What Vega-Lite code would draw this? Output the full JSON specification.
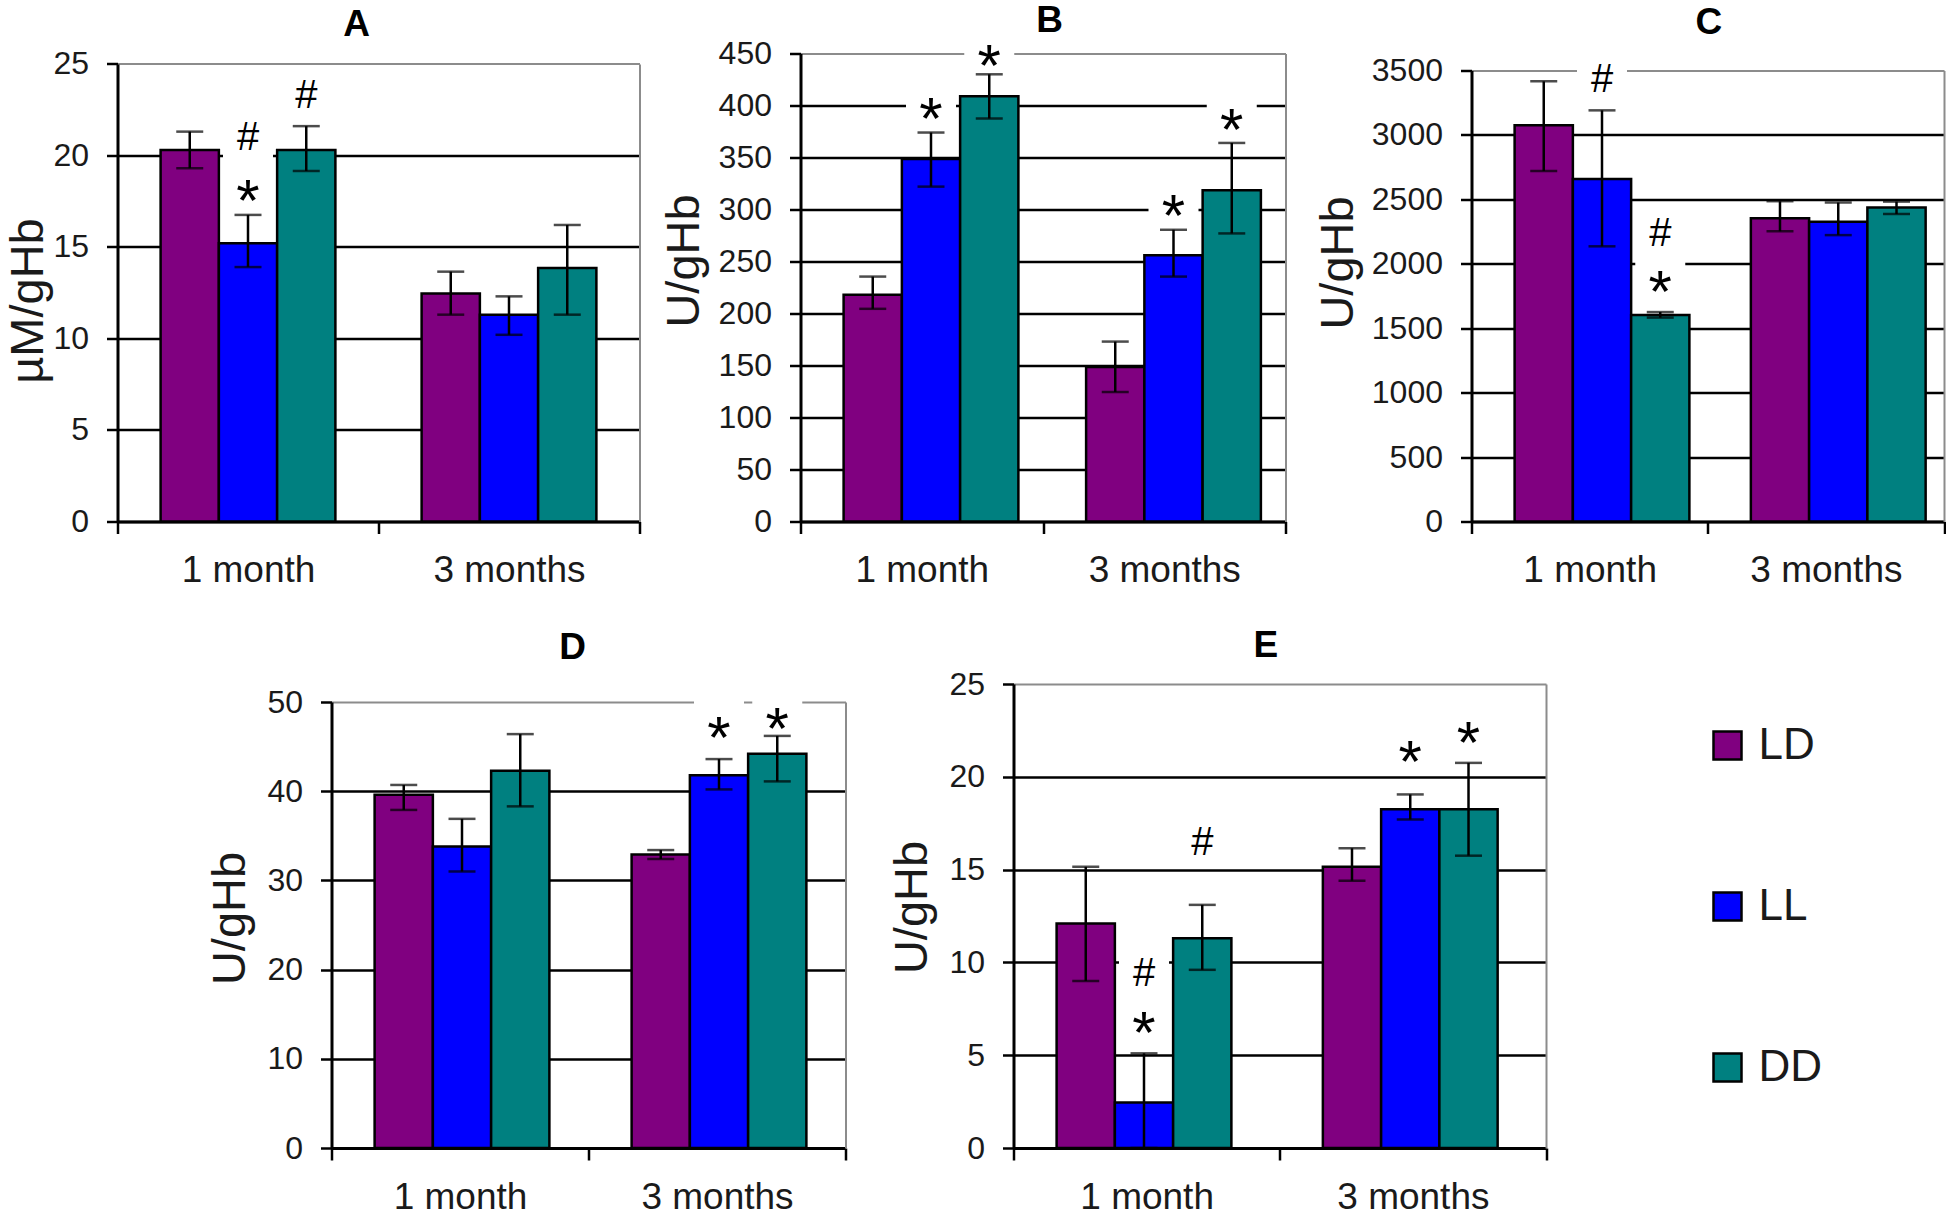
{
  "$schema": "https://vega.github.io/schema/vega-lite/v6.json",
  "background": "white",
  "padding": {"left": 4.5, "top": 1.5, "right": 0, "bottom": 0},
  "datasets": {
    "bars": [
      {"panel": "A", "month": "1 month", "group": "LD", "value": 20.3, "lo": 19.3, "hi": 21.3},
      {"panel": "A", "month": "1 month", "group": "LL", "value": 15.2, "lo": 13.9, "hi": 16.75},
      {"panel": "A", "month": "1 month", "group": "DD", "value": 20.3, "lo": 19.15, "hi": 21.6},
      {"panel": "A", "month": "3 months", "group": "LD", "value": 12.45, "lo": 11.3, "hi": 13.65},
      {"panel": "A", "month": "3 months", "group": "LL", "value": 11.3, "lo": 10.2, "hi": 12.3},
      {"panel": "A", "month": "3 months", "group": "DD", "value": 13.85, "lo": 11.3, "hi": 16.2},
      {"panel": "B", "month": "1 month", "group": "LD", "value": 218, "lo": 204.5, "hi": 235.5},
      {"panel": "B", "month": "1 month", "group": "LL", "value": 348.5, "lo": 322, "hi": 374},
      {"panel": "B", "month": "1 month", "group": "DD", "value": 409, "lo": 387.5, "hi": 430},
      {"panel": "B", "month": "3 months", "group": "LD", "value": 148.5, "lo": 124.5, "hi": 173},
      {"panel": "B", "month": "3 months", "group": "LL", "value": 256, "lo": 235.5, "hi": 280.5},
      {"panel": "B", "month": "3 months", "group": "DD", "value": 318.5, "lo": 277, "hi": 364},
      {"panel": "C", "month": "1 month", "group": "LD", "value": 3075, "lo": 2720, "hi": 3415},
      {"panel": "C", "month": "1 month", "group": "LL", "value": 2658, "lo": 2135, "hi": 3190},
      {"panel": "C", "month": "1 month", "group": "DD", "value": 1603, "lo": 1582, "hi": 1625},
      {"panel": "C", "month": "3 months", "group": "LD", "value": 2352, "lo": 2252, "hi": 2485},
      {"panel": "C", "month": "3 months", "group": "LL", "value": 2325, "lo": 2222, "hi": 2475},
      {"panel": "C", "month": "3 months", "group": "DD", "value": 2437, "lo": 2386, "hi": 2482},
      {"panel": "D", "month": "1 month", "group": "LD", "value": 39.6, "lo": 37.9, "hi": 40.7},
      {"panel": "D", "month": "1 month", "group": "LL", "value": 33.8, "lo": 31.0, "hi": 36.9},
      {"panel": "D", "month": "1 month", "group": "DD", "value": 42.3, "lo": 38.3, "hi": 46.4},
      {"panel": "D", "month": "3 months", "group": "LD", "value": 32.9, "lo": 32.4, "hi": 33.4},
      {"panel": "D", "month": "3 months", "group": "LL", "value": 41.8, "lo": 40.2, "hi": 43.6},
      {"panel": "D", "month": "3 months", "group": "DD", "value": 44.2, "lo": 41.1, "hi": 46.2},
      {"panel": "E", "month": "1 month", "group": "LD", "value": 12.1, "lo": 9.0, "hi": 15.15},
      {"panel": "E", "month": "1 month", "group": "LL", "value": 2.45, "lo": 0, "hi": 5.1},
      {"panel": "E", "month": "1 month", "group": "DD", "value": 11.3, "lo": 9.6, "hi": 13.1},
      {"panel": "E", "month": "3 months", "group": "LD", "value": 15.15, "lo": 14.4, "hi": 16.15},
      {"panel": "E", "month": "3 months", "group": "LL", "value": 18.25, "lo": 17.7, "hi": 19.05},
      {"panel": "E", "month": "3 months", "group": "DD", "value": 18.25, "lo": 15.75, "hi": 20.75}
    ],
    "notes": [
      {"panel": "A", "month": "1 month", "group": "LL", "label": "#", "value": 21.06},
      {"panel": "A", "month": "1 month", "group": "LL", "label": "*", "value": 18.0},
      {"panel": "A", "month": "1 month", "group": "DD", "label": "#", "value": 23.37},
      {"panel": "B", "month": "1 month", "group": "LL", "label": "*", "value": 396},
      {"panel": "B", "month": "1 month", "group": "DD", "label": "*", "value": 447},
      {"panel": "B", "month": "3 months", "group": "LL", "label": "*", "value": 302.7},
      {"panel": "B", "month": "3 months", "group": "DD", "label": "*", "value": 385.4},
      {"panel": "C", "month": "1 month", "group": "LL", "label": "#", "value": 3441},
      {"panel": "C", "month": "1 month", "group": "DD", "label": "#", "value": 2248},
      {"panel": "C", "month": "1 month", "group": "DD", "label": "*", "value": 1850},
      {"panel": "D", "month": "3 months", "group": "LL", "label": "*", "value": 46.98},
      {"panel": "D", "month": "3 months", "group": "DD", "label": "*", "value": 47.99},
      {"panel": "E", "month": "1 month", "group": "DD", "label": "#", "value": 16.56},
      {"panel": "E", "month": "1 month", "group": "LL", "label": "#", "value": 9.5},
      {"panel": "E", "month": "1 month", "group": "LL", "label": "*", "value": 6.7},
      {"panel": "E", "month": "3 months", "group": "LL", "label": "*", "value": 21.29},
      {"panel": "E", "month": "3 months", "group": "DD", "label": "*", "value": 22.32}
    ]
  },
  "spacing": 38.5,
  "resolve": {"scale": {"color": "shared"}},
  "vconcat": [
    {
      "hconcat": [
        {
          "width": 522, "height": 468,
          "title": {"text": "A", "dx": -22, "offset": 4},
          "encoding": {
            "x": {"field": "month", "type": "nominal", "sort": ["1 month", "3 months"], "scale": {"paddingInner": 0, "paddingOuter": 0}, "axis": {"title": null, "tickBand": "extent"}},
            "xOffset": {"field": "group", "type": "nominal", "sort": ["LD", "LL", "DD"], "scale": {"paddingInner": 0, "paddingOuter": 0.74}}
          },
          "resolve": {"axis": {"y": "independent"}},
          "layer": [
            {"data": {"name": "notes"}, "transform": [{"filter": "datum.panel === 'A' && datum.label === '#'"}],
             "mark": {"type": "point", "shape": "M-1,-0.9L1,-0.9L1,0.9L-1,0.9Z", "filled": true, "fill": "white", "strokeWidth": 0, "opacity": 1, "size": 2500},
             "encoding": {"y": {"field": "value", "type": "quantitative", "scale": {"domain": [0, 25], "range": [468, 10.4], "nice": false}, "axis": null}}},
            {"data": {"name": "notes"}, "transform": [{"filter": "datum.panel === 'A' && datum.label === '*'"}],
             "mark": {"type": "point", "shape": "M-1,-1.2L1,-1.2L1,0.8L-1,0.8Z", "filled": true, "fill": "white", "strokeWidth": 0, "opacity": 1, "size": 2500},
             "encoding": {"y": {"field": "value", "type": "quantitative", "axis": null}}},
            {"data": {"name": "bars"}, "transform": [{"filter": "datum.panel === 'A'"}],
             "mark": {"type": "bar", "stroke": "black", "strokeWidth": 2.5},
             "encoding": {
               "y": {"field": "value", "type": "quantitative", "scale": {"domain": [0, 25], "range": [468, 10.4], "nice": false},
                     "axis": {"title": "µM/gHb", "values": [0, 5, 10, 15, 20, 25], "grid": true, "titlePadding": 0, "titleY": 247,
                              "gridColor": {"condition": {"test": "datum.value === 25", "value": "#8c8c8c"}, "value": "black"},
                              "gridWidth": {"condition": {"test": "datum.value === 25", "value": 2}, "value": 2.5}}},
               "color": {"field": "group", "type": "nominal", "title": null, "scale": {"domain": ["LD", "LL", "DD"], "range": ["#800080", "#0000ff", "#008080"]}}
             }},
            {"data": {"name": "bars"}, "transform": [{"filter": "datum.panel === 'A'"}],
             "mark": {"type": "rule", "color": "black", "strokeWidth": 2.5},
             "encoding": {
               "y": {"field": "lo", "type": "quantitative", "scale": {"domain": [0, 25], "range": [468, 10.4], "nice": false},
                     "axis": {"orient": "right", "labels": false, "ticks": false, "grid": false, "title": null, "domainColor": "#8c8c8c", "domainWidth": 2}},
               "y2": {"field": "hi"}
             }},
            {"data": {"name": "bars"}, "transform": [{"filter": "datum.panel === 'A'"}],
             "mark": {"type": "tick", "color": "black", "thickness": 2.5, "size": 27},
             "encoding": {"y": {"field": "lo", "type": "quantitative", "axis": null}}},
            {"data": {"name": "bars"}, "transform": [{"filter": "datum.panel === 'A'"}],
             "mark": {"type": "tick", "color": "black", "thickness": 2.5, "size": 27},
             "encoding": {"y": {"field": "hi", "type": "quantitative", "axis": null}}},
            {"data": {"name": "notes"}, "transform": [{"filter": "datum.panel === 'A' && datum.label === '#'"}],
             "mark": {"type": "text", "fontSize": 40, "baseline": "middle", "dy": 2, "color": "black", "font": "Liberation Sans"},
             "encoding": {"y": {"field": "value", "type": "quantitative", "axis": null}, "text": {"field": "label"}}},
            {"data": {"name": "notes"}, "transform": [{"filter": "datum.panel === 'A' && datum.label === '*'"}],
             "mark": {"type": "text", "fontSize": 60, "baseline": "middle", "dy": 11, "color": "black", "font": "Liberation Sans"},
             "encoding": {"y": {"field": "value", "type": "quantitative", "axis": null}, "text": {"field": "label"}}}
          ]
        },
        {"width": 161, "height": 468, "data": {"values": []}, "mark": "point"},
        {
          "width": 485, "height": 468,
          "title": {"text": "B", "dx": 6.5, "offset": -13.5},
          "encoding": {
            "x": {"field": "month", "type": "nominal", "sort": ["1 month", "3 months"], "scale": {"paddingInner": 0, "paddingOuter": 0}, "axis": {"title": null, "tickBand": "extent"}},
            "xOffset": {"field": "group", "type": "nominal", "sort": ["LD", "LL", "DD"], "scale": {"paddingInner": 0, "paddingOuter": 0.74}}
          },
          "resolve": {"axis": {"y": "independent"}},
          "layer": [
            {"data": {"name": "notes"}, "transform": [{"filter": "datum.panel === 'B' && datum.label === '*'"}],
             "mark": {"type": "point", "shape": "M-1,-1.2L1,-1.2L1,0.8L-1,0.8Z", "filled": true, "fill": "white", "strokeWidth": 0, "opacity": 1, "size": 2500},
             "encoding": {"y": {"field": "value", "type": "quantitative", "scale": {"domain": [0, 450], "range": [468, 0], "nice": false}, "axis": null}}},
            {"data": {"name": "bars"}, "transform": [{"filter": "datum.panel === 'B'"}],
             "mark": {"type": "bar", "stroke": "black", "strokeWidth": 2.5},
             "encoding": {
               "y": {"field": "value", "type": "quantitative", "scale": {"domain": [0, 450], "range": [468, 0], "nice": false},
                     "axis": {"title": "U/gHb", "values": [0, 50, 100, 150, 200, 250, 300, 350, 400, 450], "grid": true, "titlePadding": 10, "titleY": 207,
                              "gridColor": {"condition": {"test": "datum.value === 450", "value": "#8c8c8c"}, "value": "black"},
                              "gridWidth": {"condition": {"test": "datum.value === 450", "value": 2}, "value": 2.5}}},
               "color": {"field": "group", "type": "nominal", "title": null, "scale": {"domain": ["LD", "LL", "DD"], "range": ["#800080", "#0000ff", "#008080"]}}
             }},
            {"data": {"name": "bars"}, "transform": [{"filter": "datum.panel === 'B'"}],
             "mark": {"type": "rule", "color": "black", "strokeWidth": 2.5},
             "encoding": {
               "y": {"field": "lo", "type": "quantitative", "scale": {"domain": [0, 450], "range": [468, 0], "nice": false},
                     "axis": {"orient": "right", "labels": false, "ticks": false, "grid": false, "title": null, "domainColor": "#8c8c8c", "domainWidth": 2}},
               "y2": {"field": "hi"}
             }},
            {"data": {"name": "bars"}, "transform": [{"filter": "datum.panel === 'B'"}],
             "mark": {"type": "tick", "color": "black", "thickness": 2.5, "size": 27},
             "encoding": {"y": {"field": "lo", "type": "quantitative", "axis": null}}},
            {"data": {"name": "bars"}, "transform": [{"filter": "datum.panel === 'B'"}],
             "mark": {"type": "tick", "color": "black", "thickness": 2.5, "size": 27},
             "encoding": {"y": {"field": "hi", "type": "quantitative", "axis": null}}},
            {"data": {"name": "notes"}, "transform": [{"filter": "datum.panel === 'B' && datum.label === '*'"}],
             "mark": {"type": "text", "fontSize": 60, "baseline": "middle", "dy": 11, "color": "black", "font": "Liberation Sans"},
             "encoding": {"y": {"field": "value", "type": "quantitative", "axis": null}, "text": {"field": "label"}}}
          ]
        },
        {"width": 185.5, "height": 468, "data": {"values": []}, "mark": "point"},
        {
          "width": 472.5, "height": 468,
          "title": {"text": "C", "dx": 1, "offset": 12},
          "encoding": {
            "x": {"field": "month", "type": "nominal", "sort": ["1 month", "3 months"], "scale": {"paddingInner": 0, "paddingOuter": 0}, "axis": {"title": null, "tickBand": "extent"}},
            "xOffset": {"field": "group", "type": "nominal", "sort": ["LD", "LL", "DD"], "scale": {"paddingInner": 0, "paddingOuter": 0.74}}
          },
          "resolve": {"axis": {"y": "independent"}},
          "layer": [
            {"data": {"name": "notes"}, "transform": [{"filter": "datum.panel === 'C' && datum.label === '#'"}],
             "mark": {"type": "point", "shape": "M-1,-0.9L1,-0.9L1,0.9L-1,0.9Z", "filled": true, "fill": "white", "strokeWidth": 0, "opacity": 1, "size": 2500},
             "encoding": {"y": {"field": "value", "type": "quantitative", "scale": {"domain": [0, 3500], "range": [468, 16.9], "nice": false}, "axis": null}}},
            {"data": {"name": "notes"}, "transform": [{"filter": "datum.panel === 'C' && datum.label === '*'"}],
             "mark": {"type": "point", "shape": "M-1,-1.2L1,-1.2L1,0.8L-1,0.8Z", "filled": true, "fill": "white", "strokeWidth": 0, "opacity": 1, "size": 2500},
             "encoding": {"y": {"field": "value", "type": "quantitative", "axis": null}}},
            {"data": {"name": "bars"}, "transform": [{"filter": "datum.panel === 'C'"}],
             "mark": {"type": "bar", "stroke": "black", "strokeWidth": 2.5},
             "encoding": {
               "y": {"field": "value", "type": "quantitative", "scale": {"domain": [0, 3500], "range": [468, 16.9], "nice": false},
                     "axis": {"title": "U/gHb", "format": "d", "values": [0, 500, 1000, 1500, 2000, 2500, 3000, 3500], "grid": true, "titlePadding": 9, "titleY": 209,
                              "gridColor": {"condition": {"test": "datum.value === 3500", "value": "#8c8c8c"}, "value": "black"},
                              "gridWidth": {"condition": {"test": "datum.value === 3500", "value": 2}, "value": 2.5}}},
               "color": {"field": "group", "type": "nominal", "title": null, "scale": {"domain": ["LD", "LL", "DD"], "range": ["#800080", "#0000ff", "#008080"]}}
             }},
            {"data": {"name": "bars"}, "transform": [{"filter": "datum.panel === 'C'"}],
             "mark": {"type": "rule", "color": "black", "strokeWidth": 2.5},
             "encoding": {
               "y": {"field": "lo", "type": "quantitative", "scale": {"domain": [0, 3500], "range": [468, 16.9], "nice": false},
                     "axis": {"orient": "right", "labels": false, "ticks": false, "grid": false, "title": null, "domainColor": "#8c8c8c", "domainWidth": 2}},
               "y2": {"field": "hi"}
             }},
            {"data": {"name": "bars"}, "transform": [{"filter": "datum.panel === 'C'"}],
             "mark": {"type": "tick", "color": "black", "thickness": 2.5, "size": 27},
             "encoding": {"y": {"field": "lo", "type": "quantitative", "axis": null}}},
            {"data": {"name": "bars"}, "transform": [{"filter": "datum.panel === 'C'"}],
             "mark": {"type": "tick", "color": "black", "thickness": 2.5, "size": 27},
             "encoding": {"y": {"field": "hi", "type": "quantitative", "axis": null}}},
            {"data": {"name": "notes"}, "transform": [{"filter": "datum.panel === 'C' && datum.label === '#'"}],
             "mark": {"type": "text", "fontSize": 40, "baseline": "middle", "dy": 2, "color": "black", "font": "Liberation Sans"},
             "encoding": {"y": {"field": "value", "type": "quantitative", "axis": null}, "text": {"field": "label"}}},
            {"data": {"name": "notes"}, "transform": [{"filter": "datum.panel === 'C' && datum.label === '*'"}],
             "mark": {"type": "text", "fontSize": 60, "baseline": "middle", "dy": 11, "color": "black", "font": "Liberation Sans"},
             "encoding": {"y": {"field": "value", "type": "quantitative", "axis": null}, "text": {"field": "label"}}}
          ]
        }
      ],
      "spacing": 0,
      "bounds": "flush"
    },
    {
      "hconcat": [
        {"width": 214, "height": 464, "data": {"values": []}, "mark": "point"},
        {
          "width": 514, "height": 464,
          "title": {"text": "D", "dx": -16, "offset": 17},
          "encoding": {
            "x": {"field": "month", "type": "nominal", "sort": ["1 month", "3 months"], "scale": {"paddingInner": 0, "paddingOuter": 0}, "axis": {"title": null, "tickBand": "extent"}},
            "xOffset": {"field": "group", "type": "nominal", "sort": ["LD", "LL", "DD"], "scale": {"paddingInner": 0, "paddingOuter": 0.74}}
          },
          "resolve": {"axis": {"y": "independent"}},
          "layer": [
            {"data": {"name": "notes"}, "transform": [{"filter": "datum.panel === 'D' && datum.label === '*'"}],
             "mark": {"type": "point", "shape": "M-1,-1.2L1,-1.2L1,0.8L-1,0.8Z", "filled": true, "fill": "white", "strokeWidth": 0, "opacity": 1, "size": 2500},
             "encoding": {"y": {"field": "value", "type": "quantitative", "scale": {"domain": [0, 50], "range": [464, 18], "nice": false}, "axis": null}}},
            {"data": {"name": "bars"}, "transform": [{"filter": "datum.panel === 'D'"}],
             "mark": {"type": "bar", "stroke": "black", "strokeWidth": 2.5},
             "encoding": {
               "y": {"field": "value", "type": "quantitative", "scale": {"domain": [0, 50], "range": [464, 18], "nice": false},
                     "axis": {"title": "U/gHb", "values": [0, 10, 20, 30, 40, 50], "grid": true, "titlePadding": 12, "titleY": 234,
                              "gridColor": {"condition": {"test": "datum.value === 50", "value": "#8c8c8c"}, "value": "black"},
                              "gridWidth": {"condition": {"test": "datum.value === 50", "value": 2}, "value": 2.5}}},
               "color": {"field": "group", "type": "nominal", "title": null, "scale": {"domain": ["LD", "LL", "DD"], "range": ["#800080", "#0000ff", "#008080"]}}
             }},
            {"data": {"name": "bars"}, "transform": [{"filter": "datum.panel === 'D'"}],
             "mark": {"type": "rule", "color": "black", "strokeWidth": 2.5},
             "encoding": {
               "y": {"field": "lo", "type": "quantitative", "scale": {"domain": [0, 50], "range": [464, 18], "nice": false},
                     "axis": {"orient": "right", "labels": false, "ticks": false, "grid": false, "title": null, "domainColor": "#8c8c8c", "domainWidth": 2}},
               "y2": {"field": "hi"}
             }},
            {"data": {"name": "bars"}, "transform": [{"filter": "datum.panel === 'D'"}],
             "mark": {"type": "tick", "color": "black", "thickness": 2.5, "size": 27},
             "encoding": {"y": {"field": "lo", "type": "quantitative", "axis": null}}},
            {"data": {"name": "bars"}, "transform": [{"filter": "datum.panel === 'D'"}],
             "mark": {"type": "tick", "color": "black", "thickness": 2.5, "size": 27},
             "encoding": {"y": {"field": "hi", "type": "quantitative", "axis": null}}},
            {"data": {"name": "notes"}, "transform": [{"filter": "datum.panel === 'D' && datum.label === '*'"}],
             "mark": {"type": "text", "fontSize": 60, "baseline": "middle", "dy": 11, "color": "black", "font": "Liberation Sans"},
             "encoding": {"y": {"field": "value", "type": "quantitative", "axis": null}, "text": {"field": "label"}}}
          ]
        },
        {"width": 167.6, "height": 464, "data": {"values": []}, "mark": "point"},
        {
          "width": 532.5, "height": 464,
          "title": {"text": "E", "dx": -14, "offset": 3},
          "encoding": {
            "x": {"field": "month", "type": "nominal", "sort": ["1 month", "3 months"], "scale": {"paddingInner": 0, "paddingOuter": 0}, "axis": {"title": null, "tickBand": "extent"}},
            "xOffset": {"field": "group", "type": "nominal", "sort": ["LD", "LL", "DD"], "scale": {"paddingInner": 0, "paddingOuter": 0.74}}
          },
          "resolve": {"axis": {"y": "independent"}},
          "layer": [
            {"data": {"name": "notes"}, "transform": [{"filter": "datum.panel === 'E' && datum.label === '#'"}],
             "mark": {"type": "point", "shape": "M-1,-0.9L1,-0.9L1,0.9L-1,0.9Z", "filled": true, "fill": "white", "strokeWidth": 0, "opacity": 1, "size": 2500},
             "encoding": {"y": {"field": "value", "type": "quantitative", "scale": {"domain": [0, 25], "range": [464, 0], "nice": false}, "axis": null}}},
            {"data": {"name": "notes"}, "transform": [{"filter": "datum.panel === 'E' && datum.label === '*'"}],
             "mark": {"type": "point", "shape": "M-1,-1.2L1,-1.2L1,0.8L-1,0.8Z", "filled": true, "fill": "white", "strokeWidth": 0, "opacity": 1, "size": 2500},
             "encoding": {"y": {"field": "value", "type": "quantitative", "axis": null}}},
            {"data": {"name": "bars"}, "transform": [{"filter": "datum.panel === 'E'"}],
             "mark": {"type": "bar", "stroke": "black", "strokeWidth": 2.5},
             "encoding": {
               "y": {"field": "value", "type": "quantitative", "scale": {"domain": [0, 25], "range": [464, 0], "nice": false},
                     "axis": {"title": "U/gHb", "values": [0, 5, 10, 15, 20, 25], "grid": true, "titlePadding": 12, "titleY": 223,
                              "gridColor": {"condition": {"test": "datum.value === 25", "value": "#8c8c8c"}, "value": "black"},
                              "gridWidth": {"condition": {"test": "datum.value === 25", "value": 2}, "value": 2.5}}},
               "color": {"field": "group", "type": "nominal", "title": null, "scale": {"domain": ["LD", "LL", "DD"], "range": ["#800080", "#0000ff", "#008080"]}}
             }},
            {"data": {"name": "bars"}, "transform": [{"filter": "datum.panel === 'E'"}],
             "mark": {"type": "rule", "color": "black", "strokeWidth": 2.5},
             "encoding": {
               "y": {"field": "lo", "type": "quantitative", "scale": {"domain": [0, 25], "range": [464, 0], "nice": false},
                     "axis": {"orient": "right", "labels": false, "ticks": false, "grid": false, "title": null, "domainColor": "#8c8c8c", "domainWidth": 2}},
               "y2": {"field": "hi"}
             }},
            {"data": {"name": "bars"}, "transform": [{"filter": "datum.panel === 'E'"}],
             "mark": {"type": "tick", "color": "black", "thickness": 2.5, "size": 27},
             "encoding": {"y": {"field": "lo", "type": "quantitative", "axis": null}}},
            {"data": {"name": "bars"}, "transform": [{"filter": "datum.panel === 'E'"}],
             "mark": {"type": "tick", "color": "black", "thickness": 2.5, "size": 27},
             "encoding": {"y": {"field": "hi", "type": "quantitative", "axis": null}}},
            {"data": {"name": "notes"}, "transform": [{"filter": "datum.panel === 'E' && datum.label === '#'"}],
             "mark": {"type": "text", "fontSize": 40, "baseline": "middle", "dy": 2, "color": "black", "font": "Liberation Sans"},
             "encoding": {"y": {"field": "value", "type": "quantitative", "axis": null}, "text": {"field": "label"}}},
            {"data": {"name": "notes"}, "transform": [{"filter": "datum.panel === 'E' && datum.label === '*'"}],
             "mark": {"type": "text", "fontSize": 60, "baseline": "middle", "dy": 11, "color": "black", "font": "Liberation Sans"},
             "encoding": {"y": {"field": "value", "type": "quantitative", "axis": null}, "text": {"field": "label"}}}
          ]
        }
      ],
      "spacing": 0,
      "bounds": "flush"
    }
  ],
  "config": {
    "view": {"stroke": null},
    "font": "Liberation Sans",
    "axis": {
      "labelFont": "Liberation Sans", "labelColor": "#1a1a1a", "labelFontSize": 32,
      "domainColor": "black", "domainWidth": 3,
      "tickColor": "black", "tickWidth": 2.5,
      "titleFont": "Liberation Sans", "titleFontSize": 47, "titleFontWeight": "normal", "titleColor": "#1a1a1a",
      "gridColor": "black", "gridWidth": 2.5
    },
    "axisX": {"labelFontSize": 37, "tickSize": 12, "labelPadding": 19, "labelAngle": 0, "grid": false},
    "axisY": {"tickSize": 11, "labelPadding": 18},
    "title": {"font": "Liberation Sans", "fontSize": 37, "fontWeight": "bold", "color": "black", "frame": "group", "anchor": "middle"},
    "legend": {
      "orient": "none", "legendX": 1588, "legendY": 670, "padding": 0,
      "labelFont": "Liberation Sans", "labelFontSize": 44, "labelColor": "#1a1a1a", "labelOffset": 9,
      "symbolType": "square", "symbolSize": 784, "symbolStrokeColor": "black", "symbolStrokeWidth": 2.5, "symbolOpacity": 1,
      "rowPadding": 117
    }
  }
}
